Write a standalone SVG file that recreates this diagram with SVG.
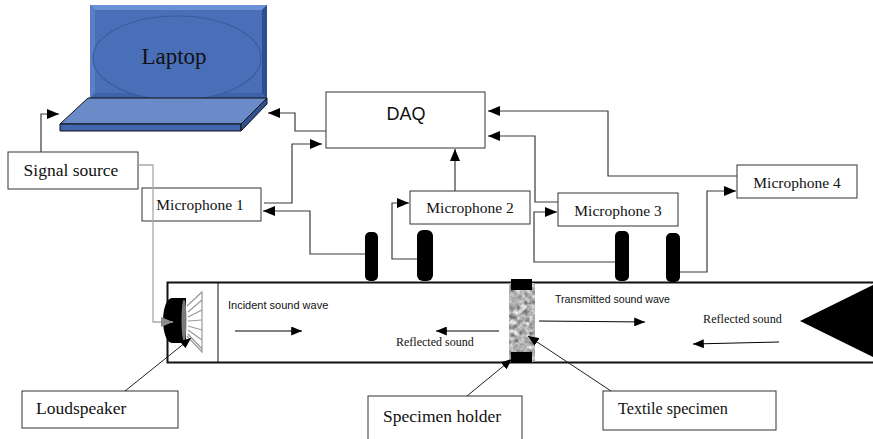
<svg xmlns="http://www.w3.org/2000/svg" width="873" height="439" viewBox="0 0 873 439">
  <style>
    .box { fill: #ffffff; stroke: #333333; stroke-width: 1; }
    .lbl { font-family: "Liberation Serif", "Times New Roman", serif; fill: #111111; }
    .sans { font-family: "Liberation Sans", Arial, sans-serif; fill: #111111; }
    .wire { fill: none; stroke: #3a3a3a; stroke-width: 1.2; }
    .lead { fill: none; stroke: #222222; stroke-width: 1; }
    .mic { fill: #000000; }
    .cone { fill: none; stroke: #9a9a9a; stroke-width: 1.2; }
  </style>
  <defs>
    <marker id="arr" viewBox="0 0 12 10" refX="12" refY="5" markerWidth="12" markerHeight="10" markerUnits="userSpaceOnUse" orient="auto">
      <path d="M0,0 L12,5 L0,10 Z" fill="#000000"/>
    </marker>
    <marker id="arrGray" viewBox="0 0 12 10" refX="12" refY="5" markerWidth="12" markerHeight="10" markerUnits="userSpaceOnUse" orient="auto">
      <path d="M0,0 L12,5 L0,10 Z" fill="#8c8c8c"/>
    </marker>
    <marker id="arrSmall" viewBox="0 0 12 10" refX="12" refY="5" markerWidth="11" markerHeight="9" markerUnits="userSpaceOnUse" orient="auto">
      <path d="M0,0 L12,5 L0,10 Z" fill="#000000"/>
    </marker>
    <!-- mottled grey fibre texture for the specimen -->
    <filter id="mottle" x="0" y="0" width="1" height="1" color-interpolation-filters="sRGB">
      <feTurbulence type="fractalNoise" baseFrequency="0.2" numOctaves="2" seed="7" result="n"/>
      <feColorMatrix in="n" type="matrix" values="0.33 0.33 0.33 0 0  0.33 0.33 0.33 0 0  0.33 0.33 0.33 0 0  0 0 0 0 1" result="g"/>
      <feComponentTransfer in="g" result="t">
        <feFuncR type="linear" slope="1.6" intercept="-0.1"/>
        <feFuncG type="linear" slope="1.6" intercept="-0.1"/>
        <feFuncB type="linear" slope="1.6" intercept="-0.1"/>
      </feComponentTransfer>
      <feGaussianBlur in="t" stdDeviation="0.5" result="s"/>
      <feComposite in="s" in2="SourceGraphic" operator="in"/>
    </filter>
  </defs>

  <!-- Laptop -->
  <g id="laptop">
    <rect x="90" y="5" width="177" height="93" fill="#3f63a8"/>
    <polygon points="90,5 267,5 262,10 95,10" fill="#6d8fd3"/>
    <polygon points="90,5 95,10 95,93 90,98" fill="#5b7fc6"/>
    <polygon points="267,5 267,98 262,93 262,10" fill="#2e4f8f"/>
    <rect x="95" y="10" width="167" height="83" fill="#4a6fb9"/>
    <ellipse cx="177" cy="58" rx="84" ry="42" fill="#4a6fb9" stroke="#3a5b9e" stroke-width="1.2"/>
    <polygon points="88,98 267,98 241,124 60,124" fill="#6a8bc8" stroke="#111" stroke-width="1"/>
    <polygon points="60,124 241,124 241,131 60,131" fill="#4066ad" stroke="#111" stroke-width="1"/>
    <polygon points="241,124 267,98 267,104 241,131" fill="#2f5091" stroke="#111" stroke-width="1"/>
    <text class="lbl" x="174" y="64" font-size="23" text-anchor="middle">Laptop</text>
  </g>

  <g id="signal-source">
    <rect class="box" x="8" y="152" width="130" height="37"/>
    <text class="lbl" x="71" y="176" font-size="17.5" text-anchor="middle">Signal source</text>
  </g>

  <g id="daq">
    <rect class="box" x="326" y="92" width="159" height="56"/>
    <text class="sans" x="406" y="120" font-size="18" text-anchor="middle">DAQ</text>
  </g>

  <g id="microphone-1">
    <rect class="box" x="142" y="188" width="119" height="33"/>
    <text class="lbl" x="200" y="210" font-size="15.5" text-anchor="middle">Microphone 1</text>
  </g>
  <g id="microphone-2">
    <rect class="box" x="410" y="191" width="120" height="33"/>
    <text class="lbl" x="470" y="213" font-size="15.5" text-anchor="middle">Microphone 2</text>
  </g>
  <g id="microphone-3">
    <rect class="box" x="558" y="193" width="120" height="33"/>
    <text class="lbl" x="618" y="216" font-size="15.5" text-anchor="middle">Microphone 3</text>
  </g>
  <g id="microphone-4">
    <rect class="box" x="737" y="165" width="120" height="33"/>
    <text class="lbl" x="797" y="188" font-size="15.5" text-anchor="middle">Microphone 4</text>
  </g>

  <!-- Impedance tube -->
  <g id="tube">
    <path d="M873,282.5 H167.5 V362.5 H873" fill="none" stroke="#111" stroke-width="2"/>
    <line x1="218" y1="283" x2="218" y2="362" stroke="#111" stroke-width="1"/>
    <polygon id="termination" points="800,321 873,285 873,357" fill="#000"/>
  </g>

  <!-- Microphone capsules on the tube -->
  <g id="mic-capsules">
    <rect class="mic" x="365" y="232" width="13" height="49" rx="5"/>
    <rect class="mic" x="417" y="230" width="16" height="51" rx="6"/>
    <rect class="mic" x="615" y="231" width="14" height="50" rx="5"/>
    <rect class="mic" x="666" y="233" width="14" height="49" rx="5"/>
  </g>

  <g id="loudspeaker-unit">
    <path d="M186,298 L172,298 A9,22.5 0 0 0 172,343 L186,343 Z" fill="#000"/>
    <ellipse cx="184" cy="320.5" rx="2.5" ry="21" fill="#7a7a7a"/>
    <path class="cone" d="M187,306 L202,292 L202,352 L187,336"/>
    <path class="cone" d="M188,312 L202,300 M188,317 L202,310 M188,321 L202,320 M188,326 L202,330 M188,330 L202,340 M188,334 L202,349"/>
  </g>

  <g id="specimen">
    <rect x="509" y="283" width="26" height="79" fill="#b0b0b0" filter="url(#mottle)"/>
    <rect x="511" y="279" width="21" height="11" fill="#000"/>
    <rect x="511" y="352" width="21" height="11" fill="#000"/>
  </g>

  <!-- Wave labels inside the tube -->
  <g id="wave-labels">
    <text class="sans" x="228" y="309" font-size="11">Incident sound wave</text>
    <line x1="235" y1="331" x2="302" y2="331" stroke="#000" stroke-width="1" marker-end="url(#arrSmall)"/>
    <text class="lbl" x="396" y="346" font-size="12">Reflected sound</text>
    <line x1="499" y1="331" x2="436" y2="331" stroke="#000" stroke-width="1" marker-end="url(#arrSmall)"/>
    <text class="sans" x="555" y="303" font-size="10.6">Transmitted sound wave</text>
    <line x1="539" y1="321" x2="645" y2="322" stroke="#000" stroke-width="1" marker-end="url(#arrSmall)"/>
    <text class="lbl" x="703" y="323" font-size="12.2">Reflected sound</text>
    <line x1="779" y1="342" x2="693" y2="344" stroke="#000" stroke-width="1" marker-end="url(#arrSmall)"/>
  </g>

  <g id="loudspeaker">
    <rect class="box" x="22" y="391" width="156" height="37"/>
    <text class="lbl" x="36" y="414" font-size="17.5">Loudspeaker</text>
  </g>
  <g id="specimen-holder">
    <rect class="box" x="368" y="396" width="154" height="50"/>
    <text class="lbl" x="383" y="422" font-size="17.5">Specimen holder</text>
  </g>
  <g id="textile-specimen">
    <rect class="box" x="603" y="391" width="173" height="39"/>
    <text class="lbl" x="618" y="414" font-size="16.2">Textile specimen</text>
  </g>

  <!-- Connectors -->
  <g id="connectors">
    <polyline class="wire" points="41,152 41,114 59,114" marker-end="url(#arr)"/>
    <polyline points="138,165 153,165 153,322 173,322" fill="none" stroke="#a8a8a8" stroke-width="1.3" marker-end="url(#arrGray)"/>
    <polyline class="wire" points="326,131 295,131 295,113 268,113" marker-end="url(#arr)"/>
    <polyline class="wire" points="264,203 292,203 292,144 322,144" marker-end="url(#arr)"/>
    <polyline class="wire" points="365,254 310,254 310,211 263,211" marker-end="url(#arr)"/>
    <polyline class="wire" points="417,259 392,259 392,203 409,203" marker-end="url(#arr)"/>
    <polyline class="wire" points="455,191 455,149" marker-end="url(#arr)"/>
    <polyline class="wire" points="558,202 535,202 535,136 488,136" marker-end="url(#arr)"/>
    <polyline class="wire" points="615,262 534,262 534,212 557,212" marker-end="url(#arr)"/>
    <polyline class="wire" points="680,272 707,272 707,191 736,191" marker-end="url(#arr)"/>
    <polyline class="wire" points="737,176 608,176 608,111 488,111" marker-end="url(#arr)"/>
    <line class="lead" x1="125" y1="391" x2="191" y2="338" marker-end="url(#arrSmall)"/>
    <line class="lead" x1="467" y1="396" x2="512" y2="359" marker-end="url(#arrSmall)"/>
    <line class="lead" x1="611" y1="391" x2="528" y2="336" marker-end="url(#arrSmall)"/>
  </g>
</svg>
